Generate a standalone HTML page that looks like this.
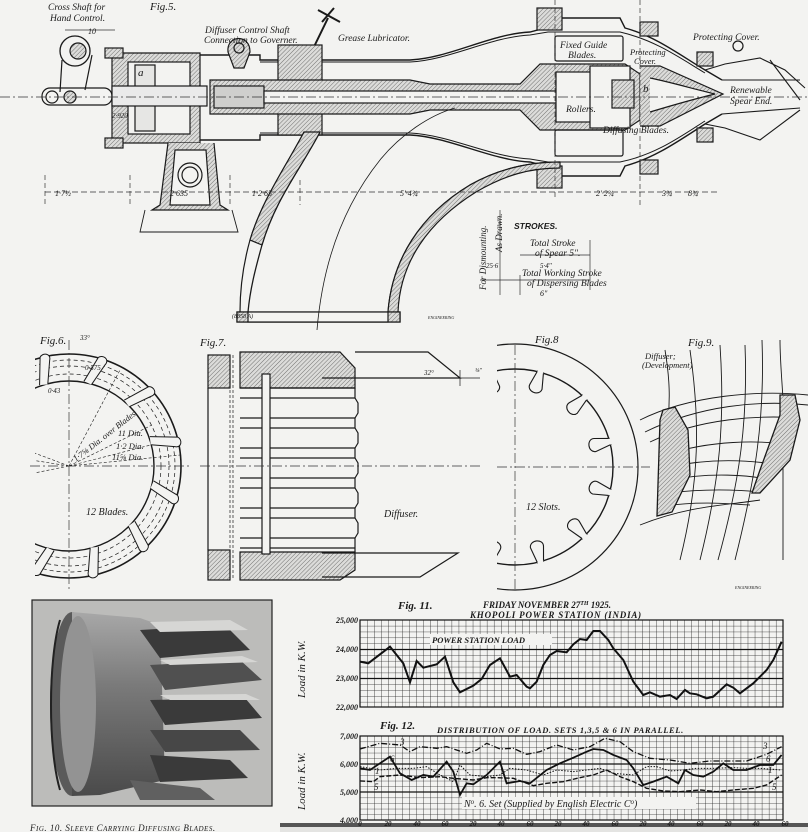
<!DOCTYPE html>
<html><head><meta charset="utf-8">
<style>
html,body{margin:0;padding:0;background:#f3f3f1;}
svg{display:block;}
text{font-family:"Liberation Serif",serif;font-style:italic;fill:#1a1a1a;}
.s{font-family:"Liberation Sans",sans-serif;font-style:italic;font-weight:bold;}
</style></head><body>
<svg width="808" height="832" viewBox="0 0 808 832" xmlns="http://www.w3.org/2000/svg">
<defs>
<pattern id="h" width="3" height="3" patternUnits="userSpaceOnUse" patternTransform="rotate(45)">
<rect width="3" height="3" fill="#dcdcda"/><line x1="0" y1="0" x2="0" y2="3" stroke="#555" stroke-width="0.8"/></pattern>
<pattern id="g11" width="7.05" height="5.85" patternUnits="userSpaceOnUse" x="360" y="620">
<path d="M0 0V5.85M0 0H7.05" stroke="#222" stroke-width="0.8" fill="none"/></pattern>
<pattern id="g12" width="7.05" height="5.6" patternUnits="userSpaceOnUse" x="360" y="736">
<path d="M0 0V5.6M0 0H7.05" stroke="#222" stroke-width="0.8" fill="none"/></pattern>
<linearGradient id="cyl" x1="0" y1="0" x2="0" y2="1">
<stop offset="0" stop-color="#a8a8a8"/><stop offset="0.4" stop-color="#7a7a7a"/><stop offset="1" stop-color="#4a4a4a"/></linearGradient>
<clipPath id="c6"><rect x="35" y="340" width="200" height="250"/></clipPath>
<clipPath id="c8"><rect x="497" y="340" width="160" height="255"/></clipPath>
</defs>

<!-- ================= FIG 5 ================= -->
<g stroke="#1a1a1a" fill="none" stroke-width="1.2">
<circle cx="75" cy="51" r="15" stroke-width="1.3"/>
<circle cx="78" cy="51" r="8" fill="url(#h)"/>
<rect x="42" y="88" width="70" height="17" rx="8"/>
<circle cx="52" cy="97" r="6"/><circle cx="70" cy="97" r="6" fill="url(#h)"/>
<path d="M62 60 L60 92 M92 55 L85 90"/>
<path d="M112 53 H200 V143 H112 Z" fill="url(#h)"/>
<rect x="128" y="62" width="62" height="72" fill="#f3f3f1"/>
<rect x="135" y="65" width="20" height="66" fill="#e6e6e4"/>
<rect x="105" y="48" width="18" height="10" fill="url(#h)"/>
<rect x="105" y="138" width="18" height="10" fill="url(#h)"/>
<rect x="112" y="86" width="95" height="20" fill="#eaeaea"/>
<path d="M200 55 H260 V60 H410 C450 58 490 34 530 32 L545 28 L550 18 L620 18 L625 28 C655 36 680 55 705 70 L722 80 M200 140 H260 V135 H410 C450 137 490 160 530 162 L545 166 L550 176 L620 176 L625 166 C655 158 680 140 705 124 L722 114" stroke-width="1.4"/>
<path d="M260 62 H410 C450 60 490 37 530 35 L548 32 L620 32 C655 40 680 58 705 73" stroke-width="1"/>
<path d="M260 133 H410 C450 135 490 157 530 159 L548 162 L620 162 C655 155 680 137 705 121" stroke-width="1"/>
<rect x="537" y="8" width="25" height="22" fill="url(#h)"/>
<rect x="537" y="166" width="25" height="22" fill="url(#h)"/>
<rect x="640" y="22" width="18" height="14" fill="url(#h)"/>
<rect x="640" y="160" width="18" height="14" fill="url(#h)"/>
<rect x="697" y="52" width="16" height="14" fill="url(#h)"/>
<rect x="697" y="128" width="16" height="14" fill="url(#h)"/>
<path d="M228 52 C226 35 250 33 250 52 L244 68 H234 Z" fill="url(#h)"/>
<circle cx="239" cy="48" r="5"/>
<path d="M310 55 L328 18 M322 22 L334 8 M318 10 L340 22" stroke-width="2"/>
<rect x="278" y="45" width="44" height="90" fill="url(#h)"/>
<path d="M210 80 H410 L430 84 H520 L540 64 H625 L640 74 V120 L625 130 H540 L520 110 H430 L410 114 H210 Z" fill="url(#h)"/>
<rect x="214" y="86" width="50" height="22" fill="#cfcfcd"/>
<rect x="264" y="91" width="300" height="12" fill="#f3f3f1"/>
<rect x="556" y="72" width="62" height="50" fill="#f3f3f1"/>
<rect x="590" y="66" width="40" height="62" fill="#f3f3f1"/>
<rect x="612" y="80" width="22" height="28" fill="url(#h)"/>
<path d="M640 66 L660 66 L723 94 L660 126 L640 126" fill="url(#h)"/>
<path d="M650 78 C670 82 690 88 715 94 C690 100 670 106 650 112" fill="#f3f3f1"/>
<path d="M705 70 L725 64 L760 58 L785 70 L805 88 M722 80 L800 80 M705 124 L725 128 L760 140 L800 110 M722 114 L800 108 M770 60 L800 100" stroke-width="1.1"/>
<circle cx="738" cy="46" r="5"/>
<rect x="555" y="36" width="68" height="25" rx="2"/>
<rect x="555" y="130" width="68" height="26" rx="2"/>
<path d="M168 143 L160 205 L152 210 H228 L220 205 L214 143" fill="url(#h)"/>
<path d="M175 150 L170 205 H210 L206 150 Z" fill="#f3f3f1"/>
<circle cx="190" cy="175" r="12"/><circle cx="190" cy="175" r="8"/>
<path d="M145 210 L140 232 H238 L232 210" stroke-width="0.9"/>
<path d="M320 132 C300 170 275 200 262 245 C255 270 250 290 248 312 H237 V322 H400 V312 H388 C392 260 420 215 470 185 C500 168 530 162 560 162" fill="none" stroke-width="1.3"/>
<path d="M304 132 C285 168 262 200 250 240 C243 265 240 290 240 312" fill="none"/>
<path d="M320 132 L304 132 C285 168 262 200 250 240 L262 245 C275 200 300 170 320 132 Z" fill="url(#h)"/>
<path d="M388 312 C392 260 420 215 470 185 C500 168 530 162 560 162 L560 168 C530 168 505 175 476 192 C428 222 400 262 398 312 Z" fill="url(#h)"/>
<rect x="237" y="312" width="163" height="10" fill="url(#h)"/>
<rect x="248" y="312" width="140" height="10" fill="#f3f3f1"/>
<path d="M317 330 C322 270 340 210 380 160 C400 135 430 115 455 108" stroke-width="0.8"/>
</g>
<g stroke="#333" stroke-width="0.7" fill="none">
<path d="M45 192 H720" stroke-dasharray="6 3"/>
<path d="M0 97 H808" stroke-dasharray="10 3 2 3"/>
<path d="M555 0 V200 M640 0 V205 M45 175 V205 M130 175 V205 M230 175 V205 M300 180 V205" stroke-dasharray="5 3"/>
<path d="M500 210 V295 M480 280 H590 M520 255 H590 M520 275 V295 M590 240 V290"/>
<path d="M65 30 H115"/>
</g>
<g font-size="9.5">
<text x="48" y="10">Cross Shaft for</text>
<text x="50" y="21">Hand Control.</text>
<text x="150" y="10" font-size="11">Fig.5.</text>
<text x="88" y="34" font-size="8">10</text>
<text x="205" y="33">Diffuser Control Shaft</text>
<text x="204" y="43">Connection to Governer.</text>
<text x="338" y="41">Grease Lubricator.</text>
<text x="560" y="48">Fixed Guide</text>
<text x="568" y="58">Blades.</text>
<text x="630" y="55" font-size="8.5">Protecting</text>
<text x="634" y="64" font-size="8.5">Cover.</text>
<text x="693" y="40">Protecting Cover.</text>
<text x="730" y="93">Renewable</text>
<text x="730" y="104">Spear End.</text>
<text x="566" y="112">Rollers.</text>
<text x="603" y="133">Diffusing Blades.</text>
<text x="643" y="92" font-size="11">b</text>
<text x="138" y="76" font-size="11">a</text>
<text x="112" y="118" font-size="7">2·920</text>
<text x="55" y="196" font-size="8">1·7½</text>
<text x="170" y="196" font-size="8">2·635</text>
<text x="252" y="196" font-size="8">1·2·65</text>
<text x="400" y="196" font-size="8">5'·4¾</text>
<text x="596" y="196" font-size="8">2'·2¾</text>
<text x="662" y="196" font-size="8">3¾</text>
<text x="688" y="196" font-size="8">8¾</text>
<text x="514" y="229" class="s" font-size="8.5">STROKES.</text>
<text x="530" y="246">Total Stroke</text>
<text x="535" y="256">of Spear 5".</text>
<text x="540" y="268" font-size="7">5·4"</text>
<text x="522" y="276">Total Working Stroke</text>
<text x="527" y="286">of Dispersing Blades</text>
<text x="540" y="296" font-size="8">6"</text>
<text x="486" y="268" font-size="7">25·6</text>
<text transform="translate(486,290) rotate(-90)" font-size="9">For Dismounting.</text>
<text transform="translate(502,252) rotate(-90)" font-size="9">As Drawn.</text>
<text x="232" y="318" font-size="6" font-style="normal">(8858 A)</text>
<text x="428" y="319" font-size="4" font-style="normal">ENGINEERING</text>
</g>

<!-- ================= FIG 6 ================= -->
<g clip-path="url(#c6)" stroke="#1a1a1a" fill="none">
<circle cx="69" cy="466" r="112" stroke-width="1.6"/>
<circle cx="69" cy="466" r="85" stroke-width="1.4"/>
<circle cx="69" cy="466" r="92" stroke-width="0.7" stroke-dasharray="4 3"/>
<circle cx="69" cy="466" r="100" stroke-width="0.7" stroke-dasharray="4 3"/>
<circle cx="69" cy="466" r="106" stroke-width="0.7" stroke-dasharray="4 3"/>
<g stroke-width="1">
<path d="M69 466 L152 425 M69 466 L170 440 M69 466 L180 455 M69 466 L120 370 M69 466 L0 440 M69 466 L0 455 M69 466 L0 480" stroke-dasharray="3 2" stroke-width="0.6"/>
<g id="bl"><path d="M0 -86 L10 -112 C14 -116 22 -112 18 -106 L8 -84" fill="#f3f3f1"/></g>
<use href="#bl" transform="translate(69,466) rotate(-20)"/>
<use href="#bl" transform="translate(69,466) rotate(10)"/>
<use href="#bl" transform="translate(69,466) rotate(40)"/>
<use href="#bl" transform="translate(69,466) rotate(70)"/>
<use href="#bl" transform="translate(69,466) rotate(100)"/>
<use href="#bl" transform="translate(69,466) rotate(130)"/>
<use href="#bl" transform="translate(69,466) rotate(160)"/>
<use href="#bl" transform="translate(69,466) rotate(190)"/>
</g>
</g>
<path d="M30 466 H190 M69 340 V590" stroke="#333" stroke-width="0.7" stroke-dasharray="10 3 2 3"/>
<g font-size="9">
<text x="40" y="344" font-size="11">Fig.6.</text>
<text x="80" y="340" font-size="7">33°</text>
<text x="85" y="370" font-size="7">0·575</text>
<text x="48" y="393" font-size="7">0·43</text>
<text transform="translate(76,462) rotate(-38)" font-size="8.5">1·7⅝ Dia. over Blades</text>
<text x="118" y="436" font-size="8.5">11 Dia.</text>
<text x="116" y="449" font-size="8.5">1·2 Dia.</text>
<text x="112" y="460" font-size="8.5">11⅝ Dia.</text>
<text x="86" y="515" font-size="10">12 Blades.</text>
</g>

<!-- ================= FIG 7 ================= -->
<g stroke="#1a1a1a" fill="none" stroke-width="1.2">
<rect x="208" y="355" width="22" height="33" fill="url(#h)"/>
<rect x="208" y="550" width="22" height="30" fill="url(#h)"/>
<path d="M208 388 V550"/>
<path d="M230 355 V580 M233 355 V580" stroke-dasharray="3 2" stroke-width="0.7"/>
<path d="M240 352 H340 L355 368 V388 H240 Z" fill="url(#h)"/>
<path d="M240 552 H355 V570 L340 580 H240 Z" fill="url(#h)"/>
<path d="M355 352 H428 L460 378 H322"/>
<path d="M322 553 H458 L420 577 H322"/>
<path d="M240 388 H355 M240 398 H355 M240 418 H355 M240 428 H355 M240 448 H355 M240 458 H355 M240 478 H355 M240 488 H355 M240 508 H355 M240 518 H355 M240 538 H355 M240 548 H355"/>
<path d="M355 388 V398 L358 403 V413 L355 418 V428 L358 433 V443 L355 448 V458 L358 463 V473 L355 478 V488 L358 493 V503 L355 508 V518 L358 523 V533 L355 538 V552"/>
<rect x="262" y="374" width="8" height="180" fill="#f3f3f1"/>
<path d="M460 370 V386 M440 378 H480" stroke-width="0.7"/>
</g>
<path d="M200 466 H480" stroke="#333" stroke-width="0.7" stroke-dasharray="10 3 2 3"/>
<text x="200" y="346" font-size="11">Fig.7.</text>
<text x="424" y="375" font-size="7">32°</text>
<text x="475" y="372" font-size="6">⅜"</text>
<text x="384" y="517" font-size="10">Diffuser.</text>

<!-- ================= FIG 8 ================= -->
<g clip-path="url(#c8)" stroke="#1a1a1a" fill="none">
<circle cx="515" cy="467" r="123" stroke-width="1.2"/>
<circle cx="515" cy="467" r="98" stroke-width="1.4"/>
<g stroke-width="1.1">
<g id="sl"><path d="M-3 -99 L-7 -84 C-9 -76 5 -74 6 -82 L3 -99" fill="#f3f3f1"/><path d="M-3 -98.5 H3" stroke="#f3f3f1" stroke-width="2"/></g>
<use href="#sl" transform="translate(515,467) rotate(-15)"/>
<use href="#sl" transform="translate(515,467) rotate(15)"/>
<use href="#sl" transform="translate(515,467) rotate(45)"/>
<use href="#sl" transform="translate(515,467) rotate(75)"/>
<use href="#sl" transform="translate(515,467) rotate(105)"/>
<use href="#sl" transform="translate(515,467) rotate(135)"/>
<use href="#sl" transform="translate(515,467) rotate(165)"/>
<use href="#sl" transform="translate(515,467) rotate(195)"/>
</g>
</g>
<path d="M497 467 H650 M515 345 V590" stroke="#333" stroke-width="0.7" stroke-dasharray="10 3 2 3"/>
<text x="535" y="343" font-size="11">Fig.8</text>
<text x="526" y="510" font-size="10">12 Slots.</text>

<!-- ================= FIG 9 ================= -->
<g stroke="#1a1a1a" fill="none" stroke-width="0.9">
<path d="M640 420 C690 395 760 390 808 395 M645 432 C700 405 760 400 808 405 M650 442 C700 418 760 415 800 418 M665 455 C710 440 760 440 790 445 M668 467 C710 458 750 460 780 465 M670 480 C710 472 750 475 770 480 M668 493 C710 488 740 490 760 492 M665 506 C705 500 740 505 750 505 M640 525 C690 505 730 505 760 500"/>
<path d="M665 350 C670 380 670 400 668 420 M690 350 C700 420 700 480 680 560 M720 345 C725 420 720 480 700 560 M745 345 C748 420 740 480 718 560 M762 340 C765 420 755 480 735 560 M780 340 C780 360 782 380 783 400 M783 400 V560"/>
<path d="M663 410 L675 407 L688 430 L690 475 L672 512 L657 516 L660 420 Z" fill="url(#h)" stroke-width="1.3"/>
<path d="M780 395 L795 395 L800 420 L790 460 L760 493 L752 493 L760 470 L780 415 Z" fill="url(#h)" stroke-width="1.3"/>
</g>
<text x="688" y="346" font-size="11">Fig.9.</text>
<text x="645" y="359" font-size="8.5">Diffuser;</text>
<text x="642" y="368" font-size="8.5">(Development)</text>
<text x="735" y="589" font-size="4" font-style="normal">ENGINEERING</text>

<!-- ================= FIG 10 photo ================= -->
<rect x="32" y="600" width="240" height="206" fill="#bcbcba" stroke="#222" stroke-width="1.2"/>
<g>
<ellipse cx="72" cy="704" rx="22" ry="92" fill="#5a5a5a"/>
<path d="M72 612 L140 618 L160 625 L165 780 L100 795 L72 796 Z" fill="url(#cyl)"/>
<ellipse cx="78" cy="704" rx="18" ry="88" fill="#939393"/>
<path d="M60 620 C48 660 48 750 60 790" stroke="#222" stroke-width="2" fill="none"/>
<g fill="#3a3a3a">
<path d="M140 630 L225 625 L250 650 L160 658 Z"/>
<path d="M150 665 L240 660 L262 680 L165 690 Z" fill="#505050"/>
<path d="M150 700 L245 698 L262 718 L165 725 Z"/>
<path d="M150 730 L240 730 L260 750 L165 752 Z" fill="#474747"/>
<path d="M150 755 L230 760 L248 778 L160 782 Z"/>
<path d="M130 780 L200 788 L215 800 L140 800 Z" fill="#606060"/>
</g>
<g fill="#d6d6d4">
<path d="M150 622 L230 620 L248 630 L160 632 Z"/>
<path d="M160 660 L242 656 L258 662 L170 665 Z"/>
<path d="M160 695 L246 694 L260 700 L170 700 Z"/>
</g>
</g>
<text x="30" y="831" font-size="9" font-style="normal" letter-spacing="0.5">F<tspan font-size="7">IG</tspan>. 10. S<tspan font-size="7">LEEVE</tspan> C<tspan font-size="7">ARRYING</tspan> D<tspan font-size="7">IFFUSING</tspan> B<tspan font-size="7">LADES</tspan>.</text>

<!-- ================= FIG 11 ================= -->
<rect x="360" y="620" width="423" height="87" fill="url(#g11)" stroke="#111" stroke-width="1.2"/>
<path d="M360 649.5 H783 M360 678.5 H783" stroke="#111" stroke-width="1.2"/>
<polyline transform="translate(280,595) scale(0.3333)" vector-effect="non-scaling-stroke" fill="none" stroke="#111" stroke-width="2" points="240,200 265,205 330,155 370,205 390,262 410,198 430,218 470,208 495,185 520,262 540,292 580,272 605,252 630,210 660,190 690,245 710,240 740,275 750,280 770,260 790,210 810,180 830,168 860,172 880,148 900,132 920,135 940,108 960,108 985,135 1000,160 1030,195 1060,260 1090,300 1110,292 1140,305 1170,300 1190,312 1215,285 1230,295 1250,298 1280,310 1300,305 1340,268 1360,278 1380,295 1400,280 1420,265 1460,225 1480,195 1505,140"/>
<rect x="430" y="634" width="122" height="11" fill="#f3f3f1"/>
<g class="s" font-size="8">
<text x="432" y="643" font-size="8.5">POWER STATION LOAD</text>
<text x="483" y="608" font-size="9">FRIDAY NOVEMBER 27<tspan font-size="6" dy="-3">TH</tspan><tspan dy="3"> 1925.</tspan></text>
<text x="470" y="618" font-size="9" letter-spacing="0.8">KHOPOLI POWER STATION (INDIA)</text>
<text x="437" y="733" font-size="8.5" letter-spacing="0.6">DISTRIBUTION OF LOAD. SETS 1,3,5 &amp; 6 IN PARALLEL.</text>
</g>
<text x="398" y="609" font-size="11" font-weight="bold">Fig. 11.</text>
<text x="380" y="729" font-size="11" font-weight="bold">Fig. 12.</text>
<g font-size="8" font-weight="bold" text-anchor="end">
<text x="358" y="623">25,000</text><text x="358" y="652">24,000</text><text x="358" y="681">23,000</text><text x="358" y="710">22,000</text>
<text x="358" y="739">7,000</text><text x="358" y="767">6,000</text><text x="358" y="795">5,000</text><text x="358" y="823">4,000</text>
</g>
<text transform="translate(305,698) rotate(-90)" font-size="11">Load in K.W.</text>
<text transform="translate(305,810) rotate(-90)" font-size="11">Load in K.W.</text>

<!-- ================= FIG 12 ================= -->
<rect x="360" y="736" width="423" height="84" fill="url(#g12)" stroke="#111" stroke-width="1.2"/>
<path d="M360 764 H783 M360 792 H783" stroke="#111" stroke-width="1.2"/>
<g transform="translate(280,595) scale(0.3333)" fill="none" stroke="#111">
<polyline vector-effect="non-scaling-stroke" stroke-width="1.3" stroke-dasharray="6 2 1 2" points="240,462 300,445 360,450 390,470 420,455 470,460 500,455 560,475 590,465 620,445 660,462 700,460 740,478 780,470 830,450 880,465 930,455 975,430 1020,440 1060,470 1110,490 1170,495 1230,505 1290,498 1340,498 1400,498 1460,478 1505,455"/>
<polyline vector-effect="non-scaling-stroke" stroke-width="1.8" points="240,520 270,525 330,485 360,535 395,555 430,540 460,545 500,500 520,530 540,600 560,565 580,568 620,540 660,500 680,565 720,558 750,565 800,525 840,505 880,488 920,470 940,462 970,465 1000,480 1040,495 1060,520 1090,570 1120,560 1160,545 1195,565 1215,525 1240,540 1270,545 1300,530 1330,505 1360,525 1400,525 1440,510 1480,510 1505,480"/>
<polyline vector-effect="non-scaling-stroke" stroke-width="1" stroke-dasharray="1.5 1.5" points="240,515 300,525 350,520 400,520 440,515 480,540 520,560 540,510 570,540 620,545 660,540 690,520 740,525 790,540 830,525 880,530 920,525 960,520 1000,535 1060,540 1100,515 1130,515 1170,528 1210,525 1250,520 1300,520 1360,518 1400,520 1440,520 1505,525"/>
<polyline vector-effect="non-scaling-stroke" stroke-width="1.4" stroke-dasharray="5 2" points="240,558 280,560 300,545 360,540 420,548 480,545 520,550 580,555 620,548 650,548 700,550 760,572 800,565 850,560 900,548 940,540 980,525 1020,545 1060,560 1100,580 1150,588 1200,590 1260,585 1310,590 1360,585 1420,580 1460,570 1505,540"/>
</g>
<rect x="462" y="797" width="234" height="12" fill="#f3f3f1"/>
<text x="464" y="807" font-size="10">N<tspan font-size="7" dy="-3">o</tspan><tspan dy="3">. 6. Set (Supplied by English Electric C</tspan><tspan font-size="7" dy="-3">o</tspan><tspan dy="3">)</tspan></text>
<g font-size="9">
<text x="400" y="745">3</text><text x="390" y="762">6</text><text x="375" y="774">1</text><text x="374" y="790">5</text>
<text x="763" y="749">3</text><text x="766" y="762">6</text><text x="768" y="773">1</text><text x="772" y="790">5</text>
</g>
<rect x="280" y="823" width="528" height="4" fill="#555"/>
<rect x="280" y="827" width="528" height="5" fill="#e4e4e2"/>
<g font-size="7" font-weight="bold" text-anchor="middle">
<text x="360" y="826">0</text><text x="388" y="826">20</text><text x="417" y="826">40</text><text x="445" y="826">60</text>
<text x="473" y="826">20</text><text x="501" y="826">40</text><text x="530" y="826">60</text><text x="558" y="826">20</text>
<text x="586" y="826">40</text><text x="615" y="826">60</text><text x="643" y="826">20</text><text x="671" y="826">40</text>
<text x="700" y="826">60</text><text x="728" y="826">20</text><text x="756" y="826">40</text><text x="785" y="826">60</text>
</g>
</svg>
</body></html>
